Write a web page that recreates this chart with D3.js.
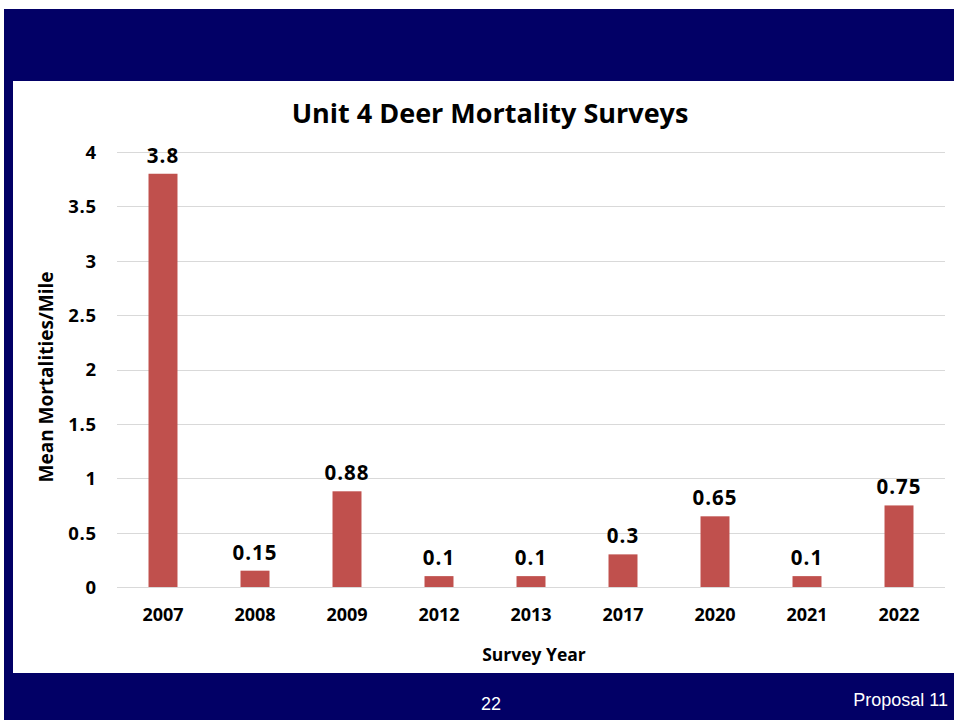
<!DOCTYPE html>
<html>
<head>
<meta charset="utf-8">
<script src="https://cdn.jsdelivr.net/npm/d3@7"></script>
<style>
  html, body { margin: 0; padding: 0; background: #ffffff; }
  svg { display: block; }
</style>
</head>
<body>
<svg id="chart" width="954" height="723"></svg>
<script>
// ---- Data ----
const years = ["2007", "2008", "2009", "2012", "2013", "2017", "2020", "2021", "2022"];
const mortalities = [3.8, 0.15, 0.88, 0.1, 0.1, 0.3, 0.65, 0.1, 0.75];
const yTicks = [0, 0.5, 1, 1.5, 2, 2.5, 3, 3.5, 4];
const chartTitle = "Unit 4 Deer Mortality Surveys";
const xTitle = "Survey Year";
const yTitle = "Mean Mortalities/Mile";
const pageNumber = "22";
const footerText = "Proposal 11";

const W = 954, H = 723;
const svg = d3.select("#chart");
const NAVY = "#020066";
const BAR = "#C0504D";
const FONT = "'Open Sans', Lato, sans-serif";

// slide background
svg.append("rect").attr("x", 4).attr("y", 9).attr("width", W - 4).attr("height", 711).attr("fill", NAVY);
// white chart panel
svg.append("rect").attr("x", 13).attr("y", 81).attr("width", W - 13).attr("height", 592).attr("fill", "#ffffff");

const plot = { left: 117, right: 945, top: 152, bottom: 587 };

const x = d3.scaleBand().domain(years).range([plot.left, plot.right]).paddingInner(0.685).paddingOuter(0.3425);
const y = d3.scaleLinear().domain([0, 4]).range([plot.bottom, plot.top]);

// gridlines
svg.append("g").selectAll("line").data(yTicks).join("line")
  .attr("x1", plot.left).attr("x2", plot.right)
  .attr("y1", d => Math.round(y(d)) + 0.5).attr("y2", d => Math.round(y(d)) + 0.5)
  .attr("stroke", "#d9d9d9").attr("stroke-width", 1);

// y axis labels
const yAxis = d3.axisLeft(y).tickValues(yTicks).tickSize(0).tickPadding(0).tickFormat(d => String(d));
const gy = svg.append("g").attr("transform", `translate(97,0)`).call(yAxis);
gy.select(".domain").remove();
gy.selectAll("text").attr("font-family", FONT).attr("font-weight", "bold").attr("font-size", 18.5)
  .attr("letter-spacing", 0.8).attr("fill", "#000").attr("dy", "0.35em");

// bars
svg.append("g").selectAll("rect").data(mortalities).join("rect")
  .attr("x", (d, i) => x(years[i]))
  .attr("y", d => y(d))
  .attr("width", x.bandwidth())
  .attr("height", d => y(0) - y(d))
  .attr("fill", BAR);

// data labels
svg.append("g").selectAll("text").data(mortalities).join("text")
  .attr("x", (d, i) => x(years[i]) + x.bandwidth() / 2)
  .attr("y", d => y(d) - 11)
  .attr("text-anchor", "middle")
  .attr("font-family", FONT).attr("font-weight", "bold").attr("font-size", 20.5).attr("letter-spacing", 1)
  .attr("fill", "#000")
  .text(d => String(d));

// x axis labels
const xAxis = d3.axisBottom(x).tickSize(0).tickPadding(0);
const gx = svg.append("g").attr("transform", `translate(0,${plot.bottom})`).call(xAxis);
gx.select(".domain").remove();
gx.selectAll("text").attr("font-family", FONT).attr("font-weight", "bold").attr("font-size", 18).attr("fill", "#000")
  .attr("dy", null).attr("y", 34);

// title
svg.append("text").attr("x", 490).attr("y", 123).attr("text-anchor", "middle")
  .attr("font-family", FONT).attr("font-weight", "bold").attr("font-size", 27).attr("fill", "#000")
  .text(chartTitle);

// x title
svg.append("text").attr("x", 534).attr("y", 661).attr("text-anchor", "middle")
  .attr("font-family", FONT).attr("font-weight", "bold").attr("font-size", 17.5).attr("fill", "#000")
  .text(xTitle);

// y title
svg.append("text").attr("transform", "translate(53,377) rotate(-90)").attr("text-anchor", "middle")
  .attr("font-family", FONT).attr("font-weight", "bold").attr("font-size", 19).attr("fill", "#000")
  .text(yTitle);

// footer
svg.append("text").attr("x", 491).attr("y", 710).attr("text-anchor", "middle")
  .attr("font-family", "'Liberation Sans', Arial, sans-serif").attr("font-size", 18).attr("fill", "#ffffff")
  .text(pageNumber);
svg.append("text").attr("x", 948).attr("y", 706).attr("text-anchor", "end")
  .attr("font-family", "'Liberation Sans', Arial, sans-serif").attr("font-size", 18).attr("fill", "#ffffff")
  .text(footerText);
</script>
</body>
</html>
